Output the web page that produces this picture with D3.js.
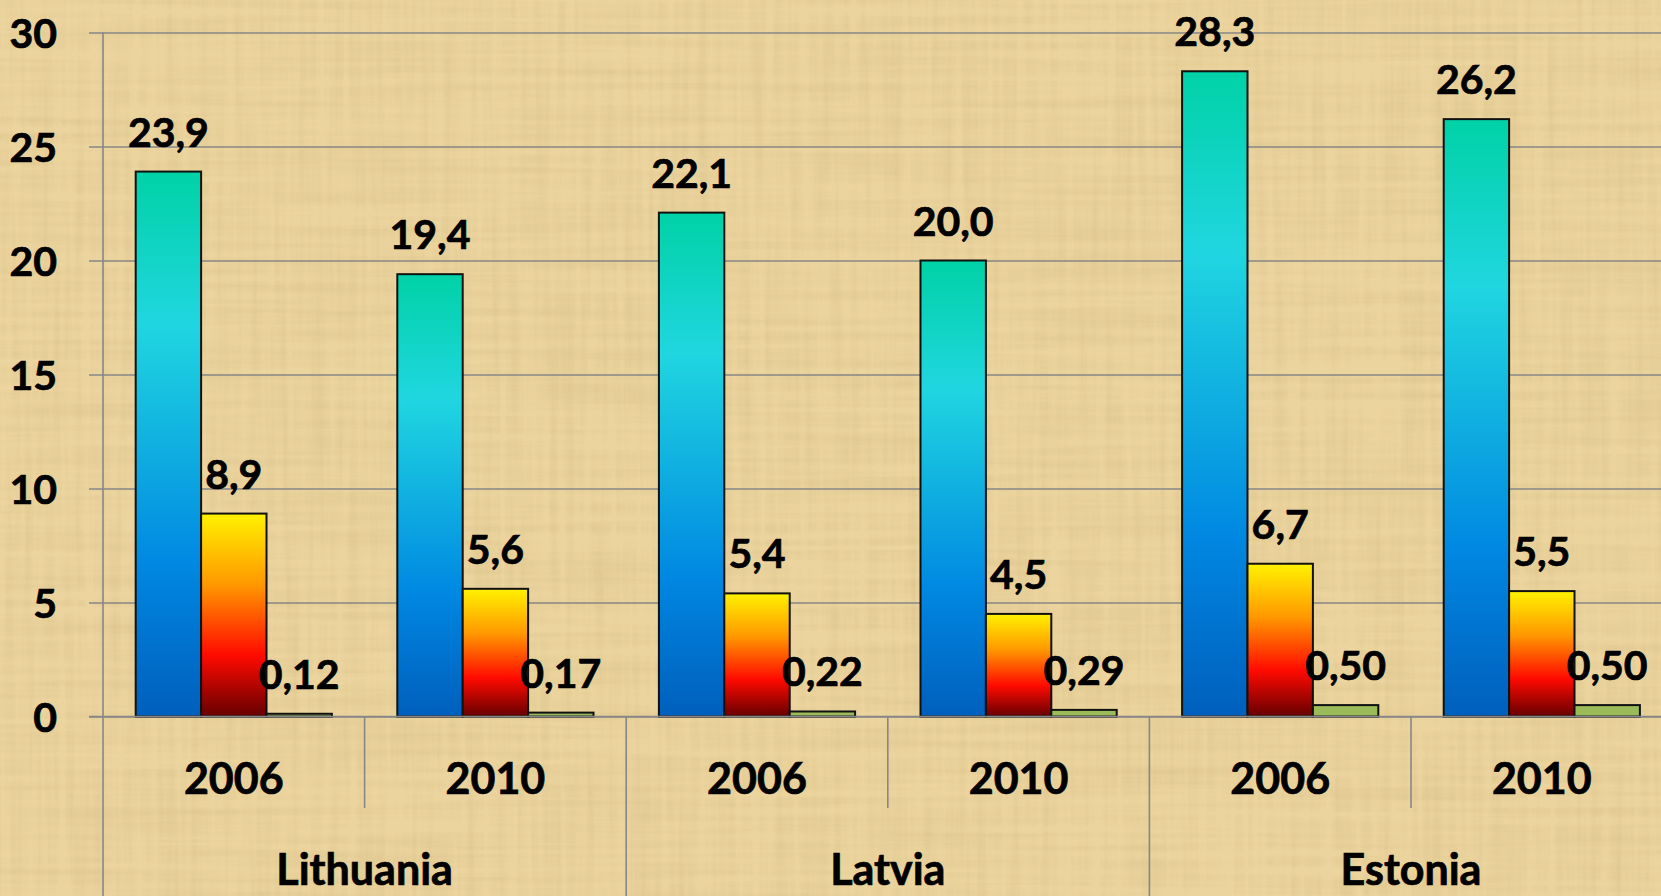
<!DOCTYPE html>
<html>
<head>
<meta charset="utf-8">
<script src="https://cdn.jsdelivr.net/npm/d3@7"></script>
<style>
  html, body { margin: 0; padding: 0; background: #e6cc94; overflow: hidden; }
  svg { display: block; }
  text { font-family: Lato, "Open Sans", sans-serif; font-weight: bold; fill: #000; stroke: #000; stroke-width: 0.7px; }
</style>
</head>
<body>
<script>
'use strict';

let countries = ['Lithuania', 'Latvia', 'Estonia'];
let years = ['2006', '2010'];
let seriesNames = ['a', 'b', 'c'];
let seriesA = [23.9, 19.4, 22.1, 20.0, 28.3, 26.2];
let seriesB = [8.9, 5.6, 5.4, 4.5, 6.7, 5.5];
let seriesC = [0.12, 0.17, 0.22, 0.29, 0.50, 0.50];
let yTicks = [0, 5, 10, 15, 20, 25, 30];

let w = 1661, h = 896;
let plotLeft = 103, plotTop = 32.5, plotBottom = 716.5;
let groupW = 261.6;

let svg = d3.select('body')
    .append('svg')
    .attr('width', w)
    .attr('height', h);

let defs = svg.append('defs');

// papyrus-like background
let f = defs.append('filter').attr('id', 'papyrus')
    .attr('x', 0).attr('y', 0).attr('width', 1).attr('height', 1);
f.append('feTurbulence').attr('type', 'fractalNoise')
    .attr('baseFrequency', '0.004 0.12').attr('numOctaves', 3).attr('seed', 3).attr('result', 'n1');
f.append('feTurbulence').attr('type', 'fractalNoise')
    .attr('baseFrequency', '0.12 0.004').attr('numOctaves', 3).attr('seed', 7).attr('result', 'n2');
f.append('feComposite').attr('in', 'n1').attr('in2', 'n2')
    .attr('operator', 'arithmetic').attr('k2', 0.5).attr('k3', 0.5).attr('result', 'n');
f.append('feColorMatrix').attr('in', 'n').attr('type', 'matrix')
    .attr('values', '0 0 0 0 0.6  0 0 0 0 0.45  0 0 0 0 0.2  -1.2 0 0 0 0.75');

svg.append('rect').attr('width', w).attr('height', h).attr('fill', '#ecd49e');
svg.append('rect').attr('width', w).attr('height', h).attr('filter', 'url(#papyrus)').attr('opacity', 0.7);

let gradA = defs.append('linearGradient').attr('id', 'gradA')
    .attr('x1', 0).attr('y1', 0).attr('x2', 0).attr('y2', 1);
[['0%', '#00d2a6'], ['28%', '#20d6e0'], ['50%', '#10b0e0'], ['72%', '#0088e2'], ['100%', '#005fbc']]
    .forEach(s => gradA.append('stop').attr('offset', s[0]).attr('stop-color', s[1]));

let gradB = defs.append('linearGradient').attr('id', 'gradB')
    .attr('x1', 0).attr('y1', 0).attr('x2', 0).attr('y2', 1);
[['0%', '#fff200'], ['35%', '#ff9800'], ['70%', '#ff0a00'], ['100%', '#650000']]
    .forEach(s => gradB.append('stop').attr('offset', s[0]).attr('stop-color', s[1]));

let fills = ['url(#gradA)', 'url(#gradB)', '#9bbb59'];

let groups = [];
countries.forEach(c => years.forEach(y => groups.push(c + '|' + y)));

let x0 = d3.scaleBand()
    .domain(groups)
    .range([plotLeft, plotLeft + groupW * groups.length])
    .padding(0);

let x1 = d3.scaleBand()
    .domain(seriesNames)
    .range([0, x0.bandwidth()])
    .paddingInner(0)
    .paddingOuter(0.5);

let y = d3.scaleLinear()
    .domain([0, 30])
    .range([plotBottom, plotTop]);

// y axis with gridlines
let yAxis = svg.append('g')
    .attr('transform', `translate(${plotLeft},0)`)
    .call(d3.axisLeft(y).tickValues(yTicks).tickSize(-(w - plotLeft)).tickPadding(46));
yAxis.select('.domain').remove();
yAxis.selectAll('.tick line')
    .attr('x1', -14)
    .attr('stroke', '#878787')
    .attr('stroke-width', 1.6);
yAxis.selectAll('.tick text')
    .attr('font-size', '41px')
    .attr('font-family', 'Lato, sans-serif')
    .attr('font-weight', 'bold')
    .attr('fill', '#000')
    .attr('dy', '0.36em');

// vertical axis line and category separators
svg.append('line')
    .attr('x1', plotLeft).attr('x2', plotLeft)
    .attr('y1', plotTop).attr('y2', h)
    .attr('stroke', '#878787').attr('stroke-width', 1.6);

svg.selectAll('line.sep')
    .data(groups.slice(1))
    .enter()
    .append('line')
    .attr('class', 'sep')
    .attr('x1', d => x0(d)).attr('x2', d => x0(d))
    .attr('y1', plotBottom)
    .attr('y2', (d, i) => (i % 2 === 0 ? 808 : h))
    .attr('stroke', '#878787').attr('stroke-width', 1.6);

// bars
let values = [seriesA, seriesB, seriesC];
let barData = [];
groups.forEach((g, gi) => seriesNames.forEach((s, si) => {
    barData.push({ g: g, s: s, si: si, v: values[si][gi] });
}));

svg.selectAll('rect.bar')
    .data(barData)
    .enter()
    .append('rect')
    .attr('class', 'bar')
    .attr('x', d => x0(d.g) + x1(d.s))
    .attr('y', d => y(d.v))
    .attr('width', x1.bandwidth())
    .attr('height', d => y(0) - y(d.v))
    .attr('fill', d => fills[d.si])
    .attr('stroke', '#111')
    .attr('stroke-width', 2);

svg.selectAll('text.val')
    .data(barData)
    .enter()
    .append('text')
    .attr('class', 'val')
    .text(d => d.v.toFixed(d.si === 2 ? 2 : 1).replace('.', ','))
    .attr('x', d => x0(d.g) + x1(d.s) + x1.bandwidth() / 2)
    .attr('y', d => y(d.v) - 25)
    .attr('font-size', '41px')
    .attr('text-anchor', 'middle');

// x axis line on top
svg.append('line')
    .attr('x1', plotLeft - 14).attr('x2', w)
    .attr('y1', y(0)).attr('y2', y(0))
    .attr('stroke', '#878787').attr('stroke-width', 1.6);

// category labels
svg.selectAll('text.year')
    .data(groups)
    .enter()
    .append('text')
    .attr('class', 'year')
    .text(d => d.split('|')[1])
    .attr('x', d => x0(d) + x0.bandwidth() / 2)
    .attr('y', 794)
    .attr('font-size', '43px')
    .attr('text-anchor', 'middle');

svg.selectAll('text.country')
    .data(countries)
    .enter()
    .append('text')
    .attr('class', 'country')
    .text(d => d)
    .attr('x', d => x0(d + '|' + years[0]) + x0.bandwidth())
    .attr('y', 885)
    .attr('font-size', '43px')
    .attr('text-anchor', 'middle');
</script>
</body>
</html>
